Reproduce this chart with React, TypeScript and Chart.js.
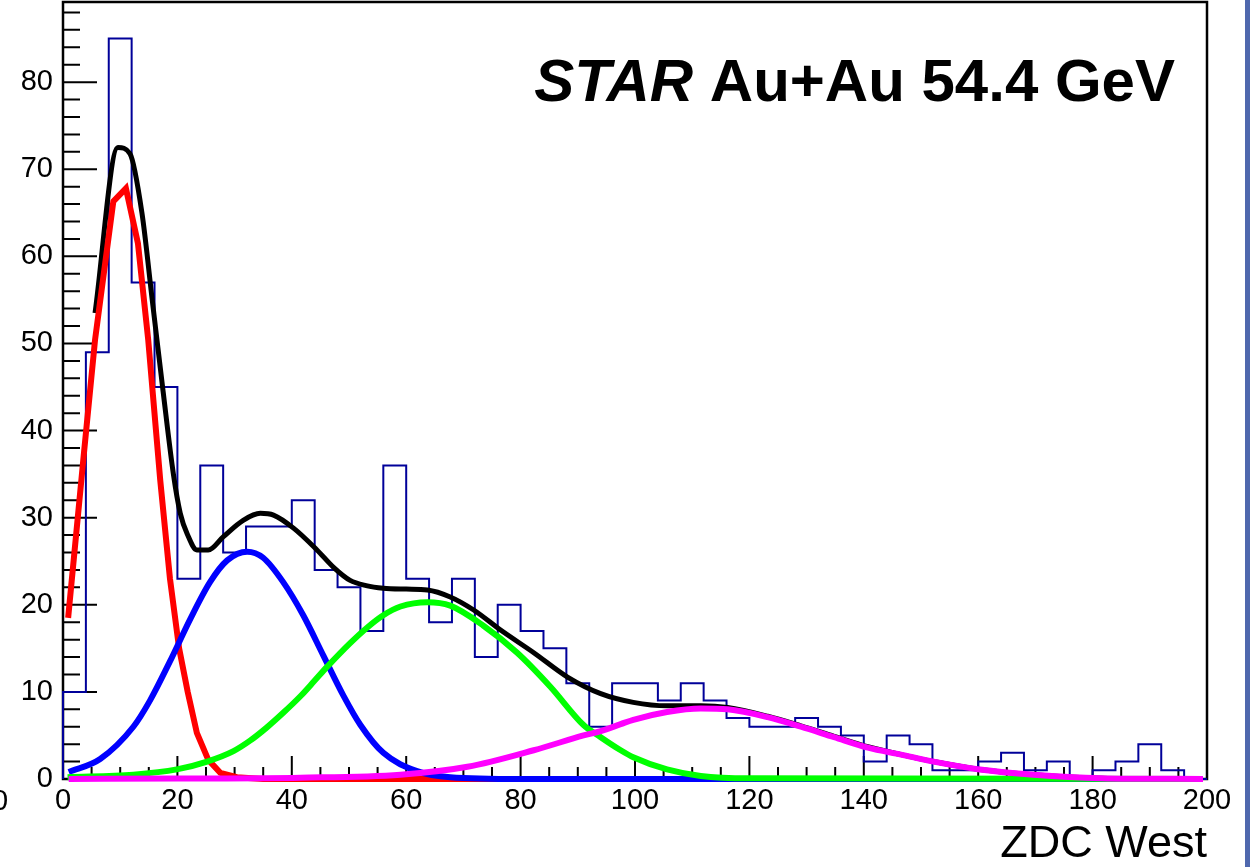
import { useEffect, useRef } from "react";
import { Chart, registerables } from "chart.js";

Chart.register(...registerables);

// ---------------- data ----------------
const binLowEdges = [
  0, 4, 8, 12, 16, 20, 24, 28, 32, 36, 40, 44, 48, 52, 56, 60, 64, 68, 72, 76,
  80, 84, 88, 92, 96, 100, 104, 108, 112, 116, 120, 124, 128, 132, 136, 140, 144, 148, 152, 156,
  160, 164, 168, 172, 176, 180, 184, 188, 192, 196,
];
const histUpperEdge = 200;
const binCounts = [
  10, 49, 85, 57, 45, 23, 36, 26, 29, 29, 32, 24, 22, 17, 36, 23, 18, 23, 14, 20,
  17, 15, 11, 6, 11, 11, 9, 11, 9, 7, 6, 6, 7, 6, 5, 2, 5, 4, 1, 1,
  2, 3, 1, 2, 0, 1, 2, 4, 1, 0,
];

const totalX = [5.6, 9.6, 11.7, 13.8, 15.6, 17.5, 19.3, 20.5, 21.8, 23.4, 25.4, 28, 31.5, 34.5, 36.8, 40.3, 44.4, 47.3, 50.2, 53, 56, 60, 63.7, 67.7, 71.8, 76.5, 82.3, 88.2, 94, 99.7, 105.6, 111.5, 116.2, 123.2, 129, 134.8, 140.7, 146.5, 152.2, 160.3, 169.7, 181.5, 199.3];
const totalY = [53.5, 72.5, 71.8, 65, 55, 44.5, 35, 30.5, 28, 26.3, 26.3, 27.8, 29.7, 30.5, 30.3, 28.8, 26.3, 24.3, 22.8, 22.2, 21.9, 21.8, 21.7, 20.9, 19.4, 17.1, 14.5, 11.7, 9.8, 8.8, 8.4, 8.4, 8.2, 7.2, 6.1, 4.9, 3.7, 2.8, 2.0, 1.1, 0.5, 0.1, 0];

const peripheralX = [0.9, 3.6, 5.6, 8.8, 11.0, 13.1, 14.9, 17.0, 18.7, 20.3, 21.8, 23.4, 25.4, 27.5, 30.4, 35, 60, 199.3];
const peripheralY = [18.5, 37, 50.4, 66.3, 67.8, 61.5, 50.4, 34.3, 23, 15, 10, 5.3, 2.2, 0.7, 0.2, 0, 0, 0];

const midX = [1.0, 6.5, 12.3, 15.2, 18.7, 22.2, 25.7, 28.7, 32.2, 35, 38.5, 42, 45.5, 49, 52, 56, 61.9, 67.7, 80, 199.3];
const midY = [0.8, 2.3, 6, 9.0, 13.5, 18.3, 22.6, 25.1, 26.1, 25.4, 22.6, 18.8, 14.2, 9.6, 6.2, 3.0, 0.9, 0.2, 0, 0];

const semiX = [0.8, 12.3, 19.9, 25.2, 29.8, 32.7, 35.6, 38.5, 41.5, 44, 46.2, 50.2, 53.2, 56, 59, 63.7, 67.7, 73.5, 79.4, 85.2, 91, 94, 97.5, 99.7, 105.6, 111.5, 120, 199.3];
const semiY = [0.2, 0.5, 1.1, 2.0, 3.2, 4.4, 5.9, 7.6, 9.5, 11.3, 12.9, 15.6, 17.4, 18.8, 19.8, 20.3, 19.9, 17.6, 14.5, 10.6, 6.2, 4.8, 3.3, 2.5, 1.1, 0.35, 0.08, 0];

const centralX = [1, 20, 41.5, 59, 70.7, 82.3, 91, 94, 97.5, 99.7, 105.6, 111.5, 116.2, 123.2, 129, 134.8, 140.7, 146.5, 152.2, 160.3, 169.7, 181.5, 199.3];
const centralY = [0, 0.05, 0.15, 0.5, 1.4, 3.3, 5, 5.5, 6.3, 6.8, 7.7, 8.1, 8.0, 7.1, 6, 4.8, 3.6, 2.8, 2.0, 1.1, 0.5, 0.1, 0];

const xTickValues = [0, 20, 40, 60, 80, 100, 120, 140, 160, 180, 200];
const yTickValues = [0, 10, 20, 30, 40, 50, 60, 70, 80];
const xMinorStep = 5;
const yMinorStep = 2;
const xMin = 0;
const xMax = 200;
const yMin = 0;
const yMax = 89.2;

const titleItalic = "STAR";
const titleRest = " Au+Au 54.4 GeV";
const xTitle = "ZDC West";

const FONT = "'Liberation Sans', Arial, Helvetica, sans-serif";

const toPts = (xs: number[], ys: number[]) => xs.map((x, i) => ({ x, y: ys[i] }));

const decorPlugin = {
  id: "decor",
  beforeDraw(chart: any) {
    const { ctx, width, height } = chart;
    ctx.save();
    ctx.fillStyle = "#ffffff";
    ctx.fillRect(0, 0, width, height);
    ctx.fillStyle = "#4f68ae";
    ctx.fillRect(1245, 0, 5, height);
    ctx.restore();
  },
  beforeDatasetsDraw(chart: any) {
    const { ctx, chartArea } = chart;
    const xs = chart.scales.x;
    const ys = chart.scales.y;
    const { left, right, top, bottom } = chartArea;
    ctx.save();
    ctx.strokeStyle = "#000";
    ctx.lineWidth = 2;
    ctx.beginPath();
    for (let v = yMin; v <= yMax + 1e-6; v += yMinorStep) {
      const isMajor = yTickValues.includes(Math.round(v));
      const py = ys.getPixelForValue(v);
      ctx.moveTo(left, py);
      ctx.lineTo(left + (isMajor ? 34 : 17), py);
    }
    for (let v = xMin; v <= xMax + 1e-6; v += xMinorStep) {
      const isMajor = xTickValues.includes(Math.round(v));
      const px = xs.getPixelForValue(v);
      ctx.moveTo(px, bottom);
      ctx.lineTo(px, bottom - (isMajor ? 23 : 12));
    }
    ctx.stroke();
    ctx.lineWidth = 2.5;
    ctx.strokeRect(left, top, right - left, bottom - top);
    ctx.restore();
  },
  afterDraw(chart: any) {
    const { ctx } = chart;
    ctx.save();
    ctx.fillStyle = "#000";
    ctx.textBaseline = "alphabetic";
    ctx.font = `italic bold 60px ${FONT}`;
    const w1 = ctx.measureText(titleItalic).width;
    ctx.font = `bold 60px ${FONT}`;
    const w2 = ctx.measureText(titleRest).width;
    const start = 1175 - w1 - w2;
    ctx.font = `italic bold 60px ${FONT}`;
    ctx.fillText(titleItalic, start, 101);
    ctx.font = `bold 60px ${FONT}`;
    ctx.fillText(titleRest, start + w1, 101);
    ctx.font = `29px ${FONT}`;
    ctx.textAlign = "center";
    ctx.textBaseline = "middle";
    ctx.fillText("0", 0, 802);
    ctx.restore();
  },
};

const zeroPadding = (scale: any) => {
  scale.paddingTop = 0;
  scale.paddingBottom = 0;
  scale.paddingLeft = 0;
  scale.paddingRight = 0;
};

export default function App() {
  const canvasRef = useRef<HTMLCanvasElement | null>(null);

  useEffect(() => {
    if (!canvasRef.current) return;
    const histPts = [{ x: binLowEdges[0], y: 0 }, ...toPts(binLowEdges, binCounts), { x: histUpperEdge, y: binCounts[binCounts.length - 1] }];

    const chart = new Chart(canvasRef.current, {
      type: "line",
      data: {
        datasets: [
          { label: "central", data: toPts(centralX, centralY), borderColor: "#ff00ff", borderWidth: 6, pointRadius: 0, cubicInterpolationMode: "monotone", clip: false, order: 1 } as any,
          { label: "semi", data: toPts(semiX, semiY), borderColor: "#00ff00", borderWidth: 6, pointRadius: 0, cubicInterpolationMode: "monotone", clip: false, order: 2 } as any,
          { label: "mid", data: toPts(midX, midY), borderColor: "#0000ff", borderWidth: 6, pointRadius: 0, cubicInterpolationMode: "monotone", clip: false, order: 3 } as any,
          { label: "peripheral", data: toPts(peripheralX, peripheralY), borderColor: "#ff0000", borderWidth: 6, pointRadius: 0, tension: 0, clip: false, order: 4 } as any,
          { label: "total", data: toPts(totalX, totalY), borderColor: "#000000", borderWidth: 5, pointRadius: 0, cubicInterpolationMode: "monotone", clip: false, order: 5 } as any,
          { label: "data", data: histPts, borderColor: "#000099", borderWidth: 2, pointRadius: 0, stepped: "before", clip: false, order: 6 } as any,
        ],
      },
      options: {
        responsive: false,
        animation: false,
        events: [],
        layout: { padding: { left: 0, right: 43, top: 2, bottom: 0 } },
        plugins: { legend: { display: false }, tooltip: { enabled: false } },
        scales: {
          x: {
            type: "linear",
            min: xMin,
            max: xMax,
            grid: { display: false, drawTicks: false },
            border: { display: false },
            ticks: {
              stepSize: 20,
              includeBounds: false,
              padding: 5,
              color: "#000",
              font: { family: FONT, size: 29 },
              maxRotation: 0,
              autoSkip: false,
            },
            title: {
              display: true,
              text: xTitle,
              align: "end",
              color: "#000",
              font: { family: FONT, size: 45, lineHeight: 1 },
              padding: { top: 0, bottom: 0 },
            },
            afterFit: (scale: any) => {
              scale.height = 88;
              zeroPadding(scale);
            },
          },
          y: {
            type: "linear",
            min: yMin,
            max: yMax,
            grid: { display: false, drawTicks: false },
            border: { display: false },
            ticks: {
              stepSize: 10,
              includeBounds: false,
              padding: 10,
              color: "#000",
              font: { family: FONT, size: 29 },
              callback: (v: any) => (yTickValues.includes(Number(v)) ? String(v) : ""),
            },
            afterFit: (scale: any) => {
              scale.width = 63;
              zeroPadding(scale);
            },
          },
        },
      },
      plugins: [decorPlugin],
    } as any);
    return () => chart.destroy();
  }, []);

  return (
    <div style={{ position: "absolute", left: 0, top: 0, width: 1250, height: 867, background: "#fff" }}>
      <canvas ref={canvasRef} width={1250} height={867} style={{ display: "block" }} />
    </div>
  );
}
